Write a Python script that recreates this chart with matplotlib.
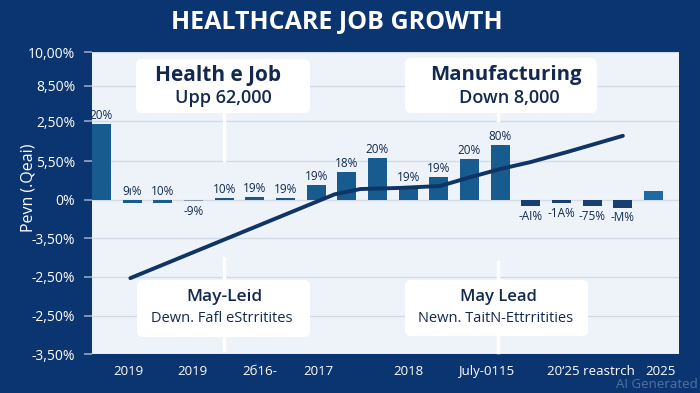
import matplotlib.pyplot as plt
from matplotlib.patches import FancyBboxPatch

plt.rcParams['font.family'] = ['Open Sans', 'DejaVu Sans']

# data (bar index units / value units)
bar_values = [2.01, -0.09, -0.07, -0.04, 0.05, 0.07, 0.05, 0.40, 0.74, 1.11,
              0.37, 0.61, 1.09, 1.46, -0.16, -0.09, -0.16, -0.21, 0.24]
bar_labels = ['20%', '9ı%', '10%', '-9%', '10%', '19%', '19%', '19%', '18%', '20%',
              '19%', '19%', '20%', '80%', '-AI%', '-1A%', '-75%', '-M%', '']
label_side = ['up'] * 3 + ['down'] + ['up'] * 10 + ['down'] * 4 + ['up']
bar_colors = ['#175b8f'] * 3 + ['#8a99aa'] + ['#1d5786'] * 3 + ['#175b8f'] * 7 \
    + ['#173f72'] * 4 + ['#1f6aa2']

trend_x = [0.94, 7.6, 8.44, 9.74, 11.04, 11.92, 13.0, 13.97, 15.18, 17.0]
trend_y = [-2.07, 0.15, 0.29, 0.32, 0.37, 0.58, 0.82, 1.0, 1.27, 1.70]

ytick_pos = [3.92, 3.02, 2.09, 1.03, 0, -1.01, -2.04, -3.07, -4.08]
ytick_labels = ['10,00%', '8,50%', '2,50%', '5,50%', '0%', '-3,50%', '-2,50%', '-2,50%', '-3,50%']
xtick_pos = [0.88, 2.96, 5.15, 7.07, 10.0, 12.54, 15.96, 18.24]
xtick_labels = ['2019', '2019', '2б16-', '2017', '2018', 'July-0115', "20‘25 reastrch", '2025']

BG = '#0b3571'
NAVY = '#13294f'

fig = plt.figure(figsize=(7, 3.93), dpi=100, facecolor=BG)
ax = fig.add_axes([92 / 700, 1 - 354 / 393, 587 / 700, 302 / 393])
ax.set_facecolor('#eef3f9')

x = list(range(len(bar_values)))
bars = ax.bar(x, bar_values, width=0.62, color=bar_colors, zorder=3)
for i, b in enumerate(bars):
    if not bar_labels[i]:
        continue
    v = bar_values[i]
    if label_side[i] == 'up':
        ax.annotate(bar_labels[i], (i, max(v, 0)), xytext=(0, 6.2), textcoords='offset points',
                    ha='center', va='center', fontsize=8.5, color=NAVY, zorder=5)
    else:
        ax.annotate(bar_labels[i], (i, min(v, 0)), xytext=(0, -7.2), textcoords='offset points',
                    ha='center', va='center', fontsize=8.5, color=NAVY, zorder=5)

ax.plot(trend_x, trend_y, color='#0f3466', lw=2.8, solid_capstyle='round',
        solid_joinstyle='round', zorder=4)

ax.set_xlim(-0.31, 18.83)
ax.set_ylim(-4.08, 3.92)
ax.set_yticks(ytick_pos)
ax.set_yticklabels(ytick_labels, color='white', fontsize=10)
ax.set_xticks(xtick_pos)
ax.set_xticklabels(xtick_labels, color='white', fontsize=9.5)
ax.tick_params(axis='y', length=6, color='#8fa6c4', width=1.2, pad=6)
ax.tick_params(axis='x', length=0, pad=8)
ax.grid(axis='y', color='#d3dbe6', lw=1, zorder=0)
for s in ax.spines.values():
    s.set_visible(False)

ax.set_ylabel('Pevn (.Qeai)', color='white', fontsize=11.5)
ax.yaxis.set_label_coords(-0.094, 0.55)

fig.text(337 / 700, 1 - 22 / 393, 'HEALTHCARE JOB GROWTH', color='white', fontsize=18,
         fontweight='bold', ha='center', va='center')

# callout boxes, in pixel layout (inches = px / 100)
tr = fig.dpi_scale_trans
H = 3.93


def box(x0, y0, x1, y1):
    fig.add_artist(FancyBboxPatch((x0 / 100, H - y1 / 100), (x1 - x0) / 100, (y1 - y0) / 100,
                                  boxstyle='round,pad=0,rounding_size=0.06',
                                  fc='white', ec='none', transform=tr, zorder=6))


def vline(xp, y0, y1):
    fig.add_artist(plt.Line2D([xp / 100, xp / 100], [H - y0 / 100, H - y1 / 100],
                              color='white', lw=2.5, transform=tr, zorder=5))


def label(xp, yp, s, size, weight):
    fig.text(xp / 100, H - yp / 100, s, transform=tr, ha='center', va='center',
             fontsize=size, fontweight=weight, color=NAVY, zorder=7)


vline(224, 110, 160)
vline(224, 258, 350)
vline(498, 262, 352)
vline(498, 110, 120)
box(136, 59, 310, 113)
box(405, 58, 597, 113)
box(137, 280, 310, 337)
box(405, 280, 588, 336)

label(218, 75, 'Health e Job', 15, 'bold')
label(223, 98, 'Upp 62,000', 13, 'semibold')
label(506, 75, 'Manufacturing', 14.7, 'bold')
label(509, 98, 'Down 8,000', 13, 'semibold')
label(224, 297, 'May-Leid', 12.5, 'semibold')
label(222, 318, 'Dewn. Fafl eStrritites', 10.5, 'normal')
label(498, 297, 'May Lead', 12, 'semibold')
label(496, 318, 'Newn. TaitN-Ettrritities', 10.5, 'normal')

fig.text(657 / 700, 1 - 385 / 393, 'AI Generated', color='#8ea3c0', alpha=0.55,
         fontsize=9.5, ha='center', va='center')

fig.savefig('out.png', dpi=100, facecolor=BG)
